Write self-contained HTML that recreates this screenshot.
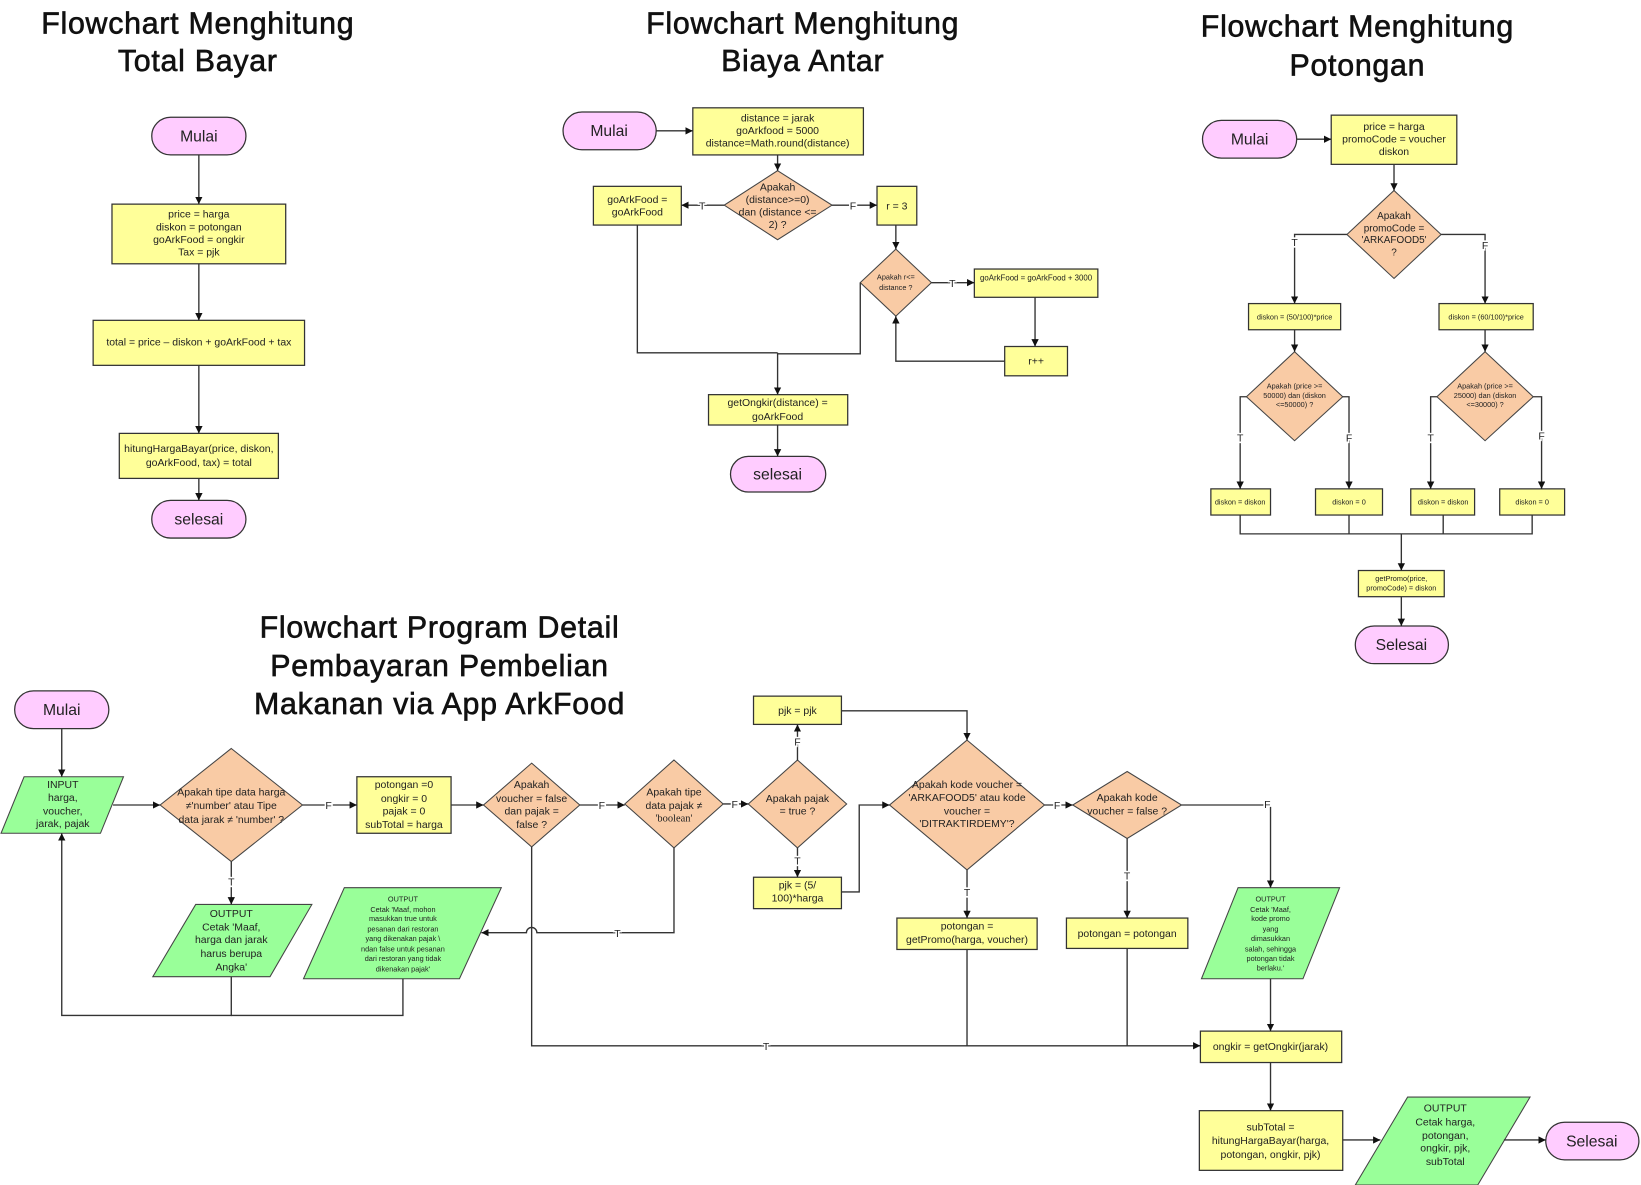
<!DOCTYPE html>
<html><head><meta charset="utf-8"><style>
html,body{margin:0;padding:0;background:#fff;}
svg{display:block;}
.t{font-family:"Liberation Sans",sans-serif;font-size:29px;fill:#111;stroke:#111;stroke-width:0.6;text-anchor:middle;letter-spacing:0.7px;}
.x{font-family:"Liberation Sans",sans-serif;fill:#222;text-anchor:middle;}
.l{stroke:#333;stroke-width:1.3;fill:none;}
.p{fill:#FFCCFF;stroke:#333;stroke-width:1.2;}
.y{fill:#FFFF99;stroke:#333;stroke-width:1.2;}
.o{fill:#F9CBA5;stroke:#444;stroke-width:1;}
.g{fill:#99FF99;stroke:#444;stroke-width:1;}
.lb{font-family:"Liberation Sans",sans-serif;font-size:10px;fill:#222;text-anchor:middle;}
</style></head><body>
<svg width="1641" height="1185" viewBox="0 0 1568 1132" preserveAspectRatio="none" xmlns="http://www.w3.org/2000/svg">
<defs><marker id="a" viewBox="0 0 10 10" refX="10" refY="5" markerWidth="7" markerHeight="7" orient="auto" markerUnits="userSpaceOnUse"><path d="M0,0L10,5L0,10z" fill="#111"/></marker></defs>

<!-- Titles -->
<text class="t" x="189" y="32">Flowchart Menghitung</text>
<text class="t" x="189" y="68">Total Bayar</text>
<text class="t" x="767" y="32">Flowchart Menghitung</text>
<text class="t" x="767" y="68">Biaya Antar</text>
<text class="t" x="1297" y="35">Flowchart Menghitung</text>
<text class="t" x="1297" y="72">Potongan</text>
<text class="t" x="420" y="609">Flowchart Program Detail</text>
<text class="t" x="420" y="646">Pembayaran Pembelian</text>
<text class="t" x="420" y="682">Makanan via App ArkFood</text>

<!-- Section 1 -->
<rect class="p" x="145" y="112" width="90" height="36" rx="18"/><text class="x" x="190" y="135" font-size="15">Mulai</text>
<rect class="y" x="107" y="195" width="166" height="57"/>
<text class="x" font-size="10"><tspan x="190" y="208">price = harga</tspan><tspan x="190" y="220">diskon = potongan</tspan><tspan x="190" y="232">goArkFood = ongkir</tspan><tspan x="190" y="244">Tax = pjk</tspan></text>
<rect class="y" x="89" y="306" width="202" height="43"/><text class="x" font-size="10" x="190" y="330">total = price – diskon + goArkFood + tax</text>
<rect class="y" x="114" y="414" width="152" height="43"/>
<text class="x" font-size="10"><tspan x="190" y="432">hitungHargaBayar(price, diskon,</tspan><tspan x="190" y="445">goArkFood, tax) = total</tspan></text>
<rect class="p" x="145" y="478" width="90" height="36" rx="18"/><text class="x" x="190" y="501" font-size="15">selesai</text>
<path class="l" marker-end="url(#a)" d="M190,148V195"/>
<path class="l" marker-end="url(#a)" d="M190,252V306"/>
<path class="l" marker-end="url(#a)" d="M190,349V414"/>
<path class="l" marker-end="url(#a)" d="M190,457V478"/>

<!-- Section 2 -->
<rect class="p" x="538" y="107" width="89" height="36" rx="18"/><text class="x" x="582" y="130" font-size="15">Mulai</text>
<rect class="y" x="662" y="103" width="163" height="45"/>
<text class="x" font-size="10"><tspan x="743" y="116">distance = jarak</tspan><tspan x="743" y="128">goArkfood = 5000</tspan><tspan x="743" y="140">distance=Math.round(distance)</tspan></text>
<polygon class="o" points="743,163 795,196 743,229 692,196"/>
<text class="x" font-size="10"><tspan x="743" y="182">Apakah</tspan><tspan x="743" y="194">(distance&gt;=0)</tspan><tspan x="743" y="206">dan (distance &lt;=</tspan><tspan x="743" y="218">2) ?</tspan></text>
<rect class="y" x="567" y="178" width="84" height="37"/>
<text class="x" font-size="10"><tspan x="609" y="194">goArkFood =</tspan><tspan x="609" y="206">goArkFood</tspan></text>
<rect class="y" x="838" y="178" width="38" height="37"/><text class="x" font-size="10" x="857" y="200">r = 3</text>
<polygon class="o" points="856,238 890,270 856,302 822,270"/>
<text class="x" font-size="7"><tspan x="856" y="267">Apakah r&lt;=</tspan><tspan x="856" y="277">distance ?</tspan></text>
<rect class="y" x="931" y="257" width="118" height="27"/><text class="x" font-size="7.5" x="990" y="268">goArkFood = goArkFood + 3000</text>
<rect class="y" x="960" y="331" width="60" height="28"/><text class="x" font-size="10" x="990" y="348">r++</text>
<rect class="y" x="677" y="377" width="133" height="29"/>
<text class="x" font-size="10"><tspan x="743" y="388">getOngkir(distance) =</tspan><tspan x="743" y="401">goArkFood</tspan></text>
<rect class="p" x="698" y="436" width="91" height="34" rx="17"/><text class="x" x="743" y="458" font-size="15">selesai</text>
<path class="l" marker-end="url(#a)" d="M627,125H662"/>
<path class="l" marker-end="url(#a)" d="M743,148V163"/>
<path class="l" marker-end="url(#a)" d="M692,196H651"/><text class="lb" x="671" y="200" style="paint-order:stroke" stroke="#fff" stroke-width="3">T</text>
<path class="l" marker-end="url(#a)" d="M795,196H838"/><text class="lb" x="815" y="200" stroke="#fff" stroke-width="3" style="paint-order:stroke">F</text>
<path class="l" marker-end="url(#a)" d="M856,215V238"/>
<path class="l" marker-end="url(#a)" d="M890,270H931"/><text class="lb" x="910" y="274" stroke="#fff" stroke-width="3" style="paint-order:stroke">T</text>
<path class="l" marker-end="url(#a)" d="M989,284V331"/>
<path class="l" marker-end="url(#a)" d="M960,345H856V302"/>
<path class="l" d="M609,215V337H743"/>
<path class="l" d="M822,270V338H743"/>
<path class="l" marker-end="url(#a)" d="M743,337V377"/>
<path class="l" marker-end="url(#a)" d="M743,406V436"/>

<!-- Section 3 -->
<rect class="p" x="1149" y="115" width="90" height="36" rx="18"/><text class="x" x="1194" y="138" font-size="15">Mulai</text>
<rect class="y" x="1272" y="110" width="120" height="47"/>
<text class="x" font-size="10"><tspan x="1332" y="124">price = harga</tspan><tspan x="1332" y="136">promoCode = voucher</tspan><tspan x="1332" y="148">diskon</tspan></text>
<polygon class="o" points="1332,182 1377,224 1332,266 1287,224"/>
<text class="x" font-size="9.5"><tspan x="1332" y="209">Apakah</tspan><tspan x="1332" y="221">promoCode =</tspan><tspan x="1332" y="232">'ARKAFOOD5'</tspan><tspan x="1332" y="244">?</tspan></text>
<rect class="y" x="1193" y="290" width="88" height="25"/><text class="x" font-size="7" x="1237" y="305">diskon = (50/100)*price</text>
<rect class="y" x="1375" y="290" width="90" height="25"/><text class="x" font-size="7" x="1420" y="305">diskon = (60/100)*price</text>
<polygon class="o" points="1237,336 1283,379 1237,421 1191,379"/>
<text class="x" font-size="7"><tspan x="1237" y="371">Apakah (price &gt;=</tspan><tspan x="1237" y="380">50000) dan (diskon</tspan><tspan x="1237" y="389">&lt;=50000) ?</tspan></text>
<polygon class="o" points="1419,336 1465,379 1419,421 1373,379"/>
<text class="x" font-size="7"><tspan x="1419" y="371">Apakah (price &gt;=</tspan><tspan x="1419" y="380">25000) dan (diskon</tspan><tspan x="1419" y="389">&lt;=30000) ?</tspan></text>
<rect class="y" x="1157" y="467" width="57" height="25"/><text class="x" font-size="7" x="1185" y="482">diskon = diskon</text>
<rect class="y" x="1257" y="467" width="64" height="25"/><text class="x" font-size="7" x="1289" y="482">diskon = 0</text>
<rect class="y" x="1348" y="467" width="61" height="25"/><text class="x" font-size="7" x="1379" y="482">diskon = diskon</text>
<rect class="y" x="1433" y="467" width="62" height="25"/><text class="x" font-size="7" x="1464" y="482">diskon = 0</text>
<rect class="y" x="1298" y="545" width="82" height="25"/>
<text class="x" font-size="7"><tspan x="1339" y="555">getPromo(price,</tspan><tspan x="1339" y="564">promoCode) = diskon</tspan></text>
<rect class="p" x="1295" y="598" width="89" height="36" rx="18"/><text class="x" x="1339" y="621" font-size="15">Selesai</text>
<path class="l" marker-end="url(#a)" d="M1239,133H1272"/>
<path class="l" marker-end="url(#a)" d="M1332,157V182"/>
<path class="l" marker-end="url(#a)" d="M1287,224H1237V290"/><text class="lb" x="1237" y="235" stroke="#fff" stroke-width="3" style="paint-order:stroke">T</text>
<path class="l" marker-end="url(#a)" d="M1377,224H1419V290"/><text class="lb" x="1419" y="238" stroke="#fff" stroke-width="3" style="paint-order:stroke">F</text>
<path class="l" marker-end="url(#a)" d="M1237,315V336"/>
<path class="l" marker-end="url(#a)" d="M1419,315V336"/>
<path class="l" marker-end="url(#a)" d="M1191,379H1185V467"/><text class="lb" x="1185" y="422" stroke="#fff" stroke-width="3" style="paint-order:stroke">T</text>
<path class="l" marker-end="url(#a)" d="M1283,379H1289V467"/><text class="lb" x="1289" y="422" stroke="#fff" stroke-width="3" style="paint-order:stroke">F</text>
<path class="l" marker-end="url(#a)" d="M1373,379H1367V467"/><text class="lb" x="1367" y="422" stroke="#fff" stroke-width="3" style="paint-order:stroke">T</text>
<path class="l" marker-end="url(#a)" d="M1465,379H1473V467"/><text class="lb" x="1473" y="420" stroke="#fff" stroke-width="3" style="paint-order:stroke">F</text>
<path class="l" d="M1185,492V510H1464V492M1289,492V510M1379,492V510"/>
<path class="l" marker-end="url(#a)" d="M1339,510V545"/>
<path class="l" marker-end="url(#a)" d="M1339,570V598"/>

<!-- Section 4 -->
<rect class="p" x="14" y="660" width="90" height="36" rx="18"/><text class="x" x="59" y="683" font-size="15">Mulai</text>
<polygon class="g" points="23,742 118,742 96,796 1,796"/>
<text class="x" font-size="10"><tspan x="60" y="753">INPUT</tspan><tspan x="60" y="765">harga,</tspan><tspan x="60" y="778">voucher,</tspan><tspan x="60" y="790">jarak, pajak</tspan></text>
<polygon class="o" points="221,715 289,769 221,823 153,769"/>
<text class="x" font-size="10"><tspan x="221" y="760">Apakah tipe data harga</tspan><tspan x="221" y="773">≠'number' atau Tipe</tspan><tspan x="221" y="786">data jarak ≠ 'number' ?</tspan></text>
<rect class="y" x="341" y="742" width="90" height="54"/>
<text class="x" font-size="10"><tspan x="386" y="753">potongan =0</tspan><tspan x="386" y="766">ongkir = 0</tspan><tspan x="386" y="778">pajak = 0</tspan><tspan x="386" y="791">subTotal = harga</tspan></text>
<polygon class="o" points="508,729 554,769 508,809 462,769"/>
<text class="x" font-size="10"><tspan x="508" y="753">Apakah</tspan><tspan x="508" y="766">voucher = false</tspan><tspan x="508" y="778">dan pajak =</tspan><tspan x="508" y="791">false ?</tspan></text>
<polygon class="o" points="644,726 691,768 644,810 597,768"/>
<text class="x" font-size="10"><tspan x="644" y="760">Apakah tipe</tspan><tspan x="644" y="773">data pajak ≠</tspan><tspan x="644" y="785" font-family="Liberation Serif,serif">'boolean'</tspan></text>
<polygon class="o" points="762,726 809,768 762,810 715,768"/>
<text class="x" font-size="10"><tspan x="762" y="766">Apakah pajak</tspan><tspan x="762" y="778">= true ?</tspan></text>
<rect class="y" x="720" y="665" width="84" height="27"/><text class="x" font-size="10" x="762" y="682">pjk = pjk</text>
<rect class="y" x="720" y="838" width="84" height="30"/>
<text class="x" font-size="10"><tspan x="762" y="849">pjk = (5/</tspan><tspan x="762" y="861">100)*harga</tspan></text>
<polygon class="o" points="924,707 998,769 924,831 850,769"/>
<text class="x" font-size="10"><tspan x="924" y="753">Apakah kode voucher =</tspan><tspan x="924" y="765">'ARKAFOOD5' atau kode</tspan><tspan x="924" y="778">voucher =</tspan><tspan x="924" y="790">'DITRAKTIRDEMY'?</tspan></text>
<polygon class="o" points="1077,737 1129,769 1077,801 1025,769"/>
<text class="x" font-size="10"><tspan x="1077" y="765">Apakah kode</tspan><tspan x="1077" y="778">voucher = false ?</tspan></text>
<polygon class="g" points="187,864 298,864 258,933 146,933"/>
<text class="x" font-size="10"><tspan x="221" y="876">OUTPUT</tspan><tspan x="221" y="889">Cetak 'Maaf,</tspan><tspan x="221" y="901">harga dan jarak</tspan><tspan x="221" y="914">harus berupa</tspan><tspan x="221" y="927">Angka'</tspan></text>
<polygon class="g" points="329,848 479,848 439,935 290,935"/>
<text class="x" font-size="7"><tspan x="385" y="861">OUTPUT</tspan><tspan x="385" y="871">Cetak 'Maaf, mohon</tspan><tspan x="385" y="880">masukkan true untuk</tspan><tspan x="385" y="890">pesanan dari restoran</tspan><tspan x="385" y="899">yang dikenakan pajak \</tspan><tspan x="385" y="909">ndan false untuk pesanan</tspan><tspan x="385" y="918">dari restoran yang tidak</tspan><tspan x="385" y="928">dikenakan pajak'</tspan></text>
<rect class="y" x="857" y="877" width="134" height="30"/>
<text class="x" font-size="10"><tspan x="924" y="888">potongan =</tspan><tspan x="924" y="901">getPromo(harga, voucher)</tspan></text>
<rect class="y" x="1019" y="877" width="116" height="29"/><text class="x" font-size="10" x="1077" y="895">potongan = potongan</text>
<polygon class="g" points="1183,848 1280,848 1245,935 1148,935"/>
<text class="x" font-size="7"><tspan x="1214" y="861">OUTPUT</tspan><tspan x="1214" y="871">Cetak 'Maaf,</tspan><tspan x="1214" y="880">kode promo</tspan><tspan x="1214" y="890">yang</tspan><tspan x="1214" y="899">dimasukkan</tspan><tspan x="1214" y="909">salah, sehingga</tspan><tspan x="1214" y="918">potongan tidak</tspan><tspan x="1214" y="927">berlaku.'</tspan></text>
<rect class="y" x="1147" y="985" width="135" height="30"/><text class="x" font-size="10" x="1214" y="1003">ongkir = getOngkir(jarak)</text>
<rect class="y" x="1146" y="1061" width="137" height="57"/>
<text class="x" font-size="10"><tspan x="1214" y="1080">subTotal =</tspan><tspan x="1214" y="1093">hitungHargaBayar(harga,</tspan><tspan x="1214" y="1106">potongan, ongkir, pjk)</tspan></text>
<polygon class="g" points="1345,1048 1462,1048 1412,1132 1295,1132"/>
<text class="x" font-size="10"><tspan x="1381" y="1062">OUTPUT</tspan><tspan x="1381" y="1075">Cetak harga,</tspan><tspan x="1381" y="1088">potongan,</tspan><tspan x="1381" y="1100">ongkir, pjk,</tspan><tspan x="1381" y="1113">subTotal</tspan></text>
<rect class="p" x="1477" y="1072" width="89" height="36" rx="18"/><text class="x" x="1521" y="1095" font-size="15">Selesai</text>

<path class="l" marker-end="url(#a)" d="M59,696V742"/>
<path class="l" marker-end="url(#a)" d="M108,769H153"/>
<path class="l" marker-end="url(#a)" d="M289,769H341"/><text class="lb" x="314" y="773" stroke="#fff" stroke-width="3" style="paint-order:stroke">F</text>
<path class="l" marker-end="url(#a)" d="M221,823V864"/><text class="lb" x="221" y="846" stroke="#fff" stroke-width="3" style="paint-order:stroke">T</text>
<path class="l" marker-end="url(#a)" d="M221,933V970H59V796"/>
<path class="l" d="M385,935V970H221"/>
<path class="l" marker-end="url(#a)" d="M431,769H462"/>
<path class="l" marker-end="url(#a)" d="M554,769H597"/><text class="lb" x="575" y="773" stroke="#fff" stroke-width="3" style="paint-order:stroke">F</text>
<path class="l" marker-end="url(#a)" d="M691,768H715"/><text class="lb" x="702" y="772" stroke="#fff" stroke-width="3" style="paint-order:stroke">F</text>
<path class="l" marker-end="url(#a)" d="M762,726V692"/><text class="lb" x="762" y="712" stroke="#fff" stroke-width="3" style="paint-order:stroke">F</text>
<path class="l" marker-end="url(#a)" d="M762,810V838"/><text class="lb" x="762" y="826" stroke="#fff" stroke-width="3" style="paint-order:stroke">T</text>
<path class="l" marker-end="url(#a)" d="M804,679H924V707"/>
<path class="l" marker-end="url(#a)" d="M804,852H821V769H850"/>
<path class="l" marker-end="url(#a)" d="M998,769H1025"/><text class="lb" x="1010" y="773" stroke="#fff" stroke-width="3" style="paint-order:stroke">F</text>
<path class="l" marker-end="url(#a)" d="M924,831V877"/><text class="lb" x="924" y="856" stroke="#fff" stroke-width="3" style="paint-order:stroke">T</text>
<path class="l" marker-end="url(#a)" d="M1077,801V877"/><text class="lb" x="1077" y="840" stroke="#fff" stroke-width="3" style="paint-order:stroke">T</text>
<path class="l" marker-end="url(#a)" d="M1129,769H1214V848"/><text class="lb" x="1211" y="772" stroke="#fff" stroke-width="3" style="paint-order:stroke">F</text>
<path class="l" marker-end="url(#a)" d="M644,810V891H513A5,5 0 0 0 503,891H460"/><text class="lb" x="590" y="895" stroke="#fff" stroke-width="3" style="paint-order:stroke">T</text>
<path class="l" marker-end="url(#a)" d="M508,809V999H1147"/><text class="lb" x="732" y="1003" stroke="#fff" stroke-width="3" style="paint-order:stroke">T</text>
<path class="l" d="M924,907V999M1077,906V999"/>
<path class="l" marker-end="url(#a)" d="M1214,935V985"/>
<path class="l" marker-end="url(#a)" d="M1214,1015V1061"/>
<path class="l" marker-end="url(#a)" d="M1283,1089H1319"/>
<path class="l" marker-end="url(#a)" d="M1437,1089H1477"/>
</svg>
</body></html>
